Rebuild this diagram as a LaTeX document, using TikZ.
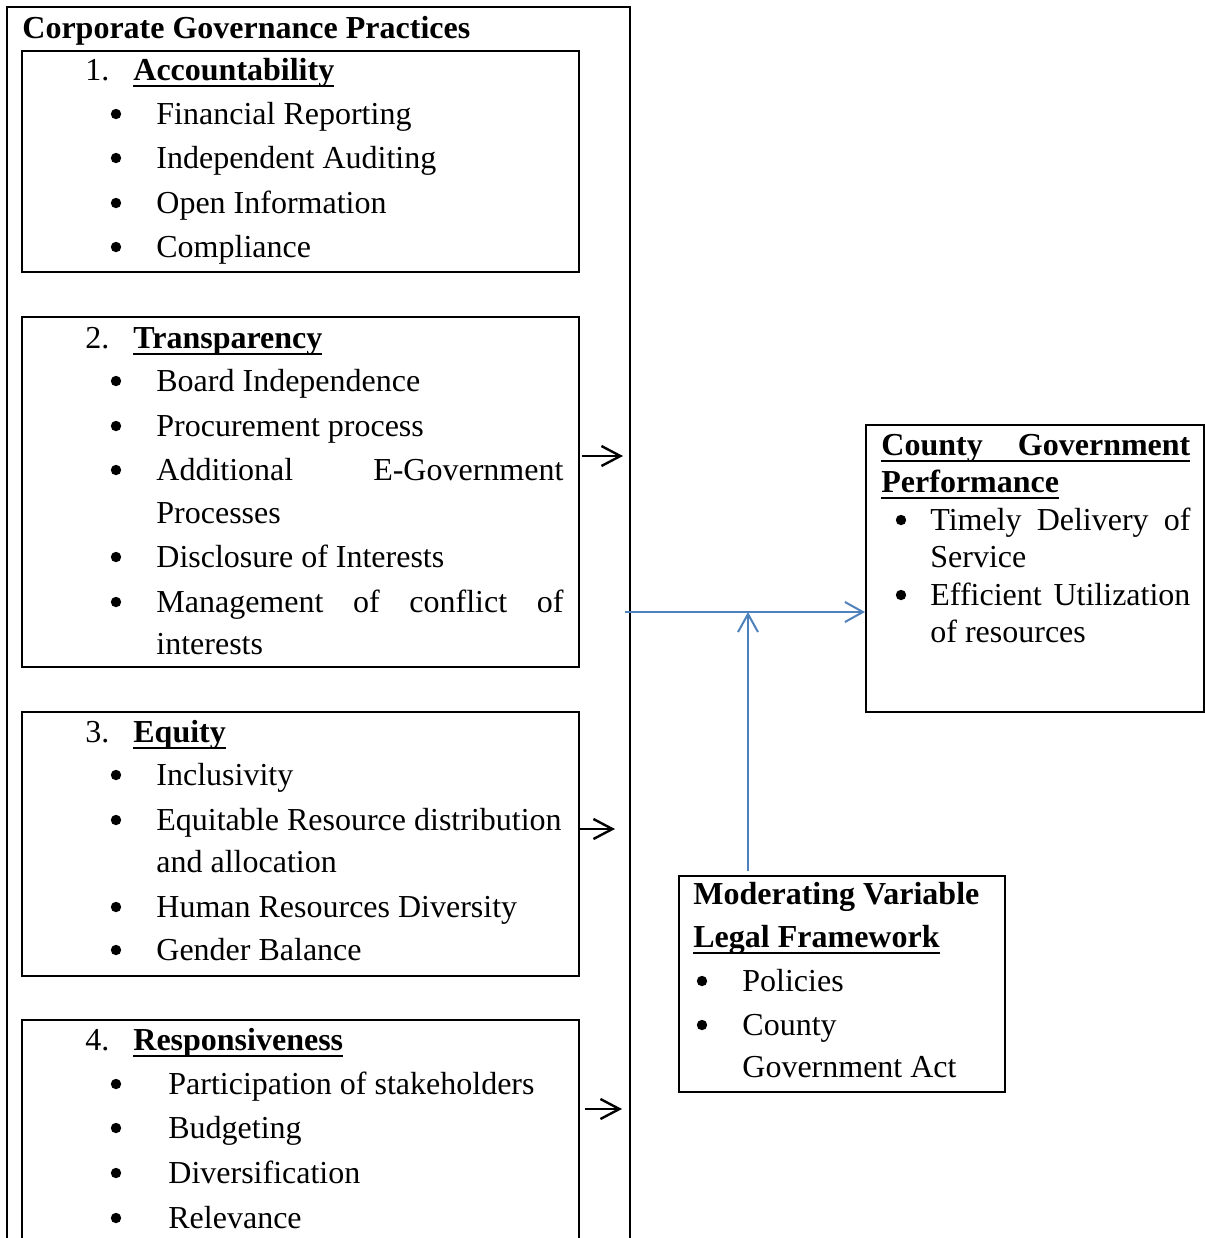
\documentclass[tikz,border=0pt]{standalone}
\usepackage{fontspec}
\setmainfont{Liberation Serif}
\usetikzlibrary{arrows.meta,fit}
\definecolor{linkblue}{HTML}{4F81BD}
\newcommand{\myul}[1]{\setbox0\hbox{#1}\rlap{\rule[-3.6pt]{\wd0}{1.3pt}}\box0}
\begin{document}
\begin{tikzpicture}[x=0.5pt,y=-0.5pt,
  box/.style={draw, line width=1pt, inner sep=0pt},
  txt/.style={anchor=base west, inner sep=0pt, font=\fontsize{16}{20}\selectfont},
  bul/.style={circle, fill, inner sep=0pt, minimum size=5.2pt, yshift=5pt},
  blkarrow/.style={line width=1.2pt, -{Straight Barb[length=9.5pt,width=10pt]}},
  bluearrow/.style={line width=1pt, linkblue, -{Straight Barb[length=9pt,width=10pt]}}]
\useasboundingbox (0,0) rectangle (1205,1238);

% outer and inner boxes
\node[box, fit={(7,7) (630,1270)}] (outer) {};
\node[box, fit={(22,51) (579,272)}] (b1) {};
\node[box, fit={(22,317) (579,667)}] (b2) {};
\node[box, fit={(22,712) (579,976)}] (b3) {};
\node[box, fit={(22,1020) (579,1270)}] (b4) {};
\node[box, fit={(866,425) (1204,712)}] (rb) {};
\node[box, fit={(679,876) (1005,1092)}] (mv) {};

% title
\node[txt] (title) at (22,38) {\bfseries Corporate Governance Practices};

% box 1
\node[txt] (n1) at (85,80) {1.};
\node[txt] (h1) at (133,80) {\bfseries\myul{Accountability}};
\node[bul] (p11) at (116,124) {};
\node[txt] (t11) at (156,124) {Financial Reporting};
\node[bul] (p12) at (116,168) {};
\node[txt] (t12) at (156,168) {Independent Auditing};
\node[bul] (p13) at (116,213) {};
\node[txt] (t13) at (156,213) {Open Information};
\node[bul] (p14) at (116,257) {};
\node[txt] (t14) at (156,257) {Compliance};

% box 2
\node[txt] (n2) at (85,348) {2.};
\node[txt] (h2) at (133,348) {\bfseries\myul{Transparency}};
\node[bul] (p21) at (116,391) {};
\node[txt] (t21) at (156,391) {Board Independence};
\node[bul] (p22) at (116,436) {};
\node[txt] (t22) at (156,436) {Procurement process};
\node[bul] (p23) at (116,480) {};
\node[txt] (t23) at (156,480) {\makebox[203.5pt][s]{Additional E-Government}};
\node[txt] (t23b) at (156,523) {Processes};
\node[bul] (p24) at (116,567) {};
\node[txt] (t24) at (156,567) {Disclosure of Interests};
\node[bul] (p25) at (116,612) {};
\node[txt] (t25) at (156,612) {\makebox[203.5pt][s]{Management of conflict of}};
\node[txt] (t25b) at (156,654) {interests};

% box 3
\node[txt] (n3) at (85,742) {3.};
\node[txt] (h3) at (133,742) {\bfseries\myul{Equity}};
\node[bul] (p31) at (116,785) {};
\node[txt] (t31) at (156,785) {Inclusivity};
\node[bul] (p32) at (116,830) {};
\node[txt] (t32) at (156,830) {Equitable Resource distribution};
\node[txt] (t32b) at (156,872) {and allocation};
\node[bul] (p33) at (116,917) {};
\node[txt] (t33) at (156,917) {Human Resources Diversity};
\node[bul] (p34) at (116,960) {};
\node[txt] (t34) at (156,960) {Gender Balance};

% box 4
\node[txt] (n4) at (85,1050) {4.};
\node[txt] (h4) at (133,1050) {\bfseries\myul{Responsiveness}};
\node[bul] (p41) at (116,1094) {};
\node[txt] (t41) at (168,1094) {Participation of stakeholders};
\node[bul] (p42) at (116,1138) {};
\node[txt] (t42) at (168,1138) {Budgeting};
\node[bul] (p43) at (116,1183) {};
\node[txt] (t43) at (168,1183) {Diversification};
\node[bul] (p44) at (116,1228) {};
\node[txt] (t44) at (168,1228) {Relevance};

% right box
\node[txt] (r1) at (881,455) {\bfseries\myul{\makebox[154.5pt][s]{County Government}}};
\node[txt] (r2) at (881,492) {\bfseries\myul{Performance}};
\node[bul] (rp1) at (901,530) {};
\node[txt] (r3) at (930,530) {\makebox[130pt][s]{Timely Delivery of}};
\node[txt] (r4) at (930,567) {Service};
\node[bul] (rp2) at (901,605) {};
\node[txt] (r5) at (930,605) {\makebox[130pt][s]{Efficient Utilization}};
\node[txt] (r6) at (930,642) {of resources};

% moderating box
\node[txt] (m1) at (693,904) {\bfseries Moderating Variable};
\node[txt] (m2) at (693,947) {\bfseries\myul{Legal Framework}};
\node[bul] (mp1) at (702,991) {};
\node[txt] (m3) at (742,991) {Policies};
\node[bul] (mp2) at (702,1035) {};
\node[txt] (m4) at (742,1035) {County};
\node[txt] (m5) at (742,1077) {Government Act};

% black arrows
\coordinate (a2s) at (582,456); \coordinate (a2e) at (623,456);
\coordinate (a3s) at (579,829); \coordinate (a3e) at (615,829);
\coordinate (a4s) at (585,1109); \coordinate (a4e) at (622,1109);
\draw[blkarrow] (a2s) -- (a2e);
\draw[blkarrow] (a3s) -- (a3e);
\draw[blkarrow] (a4s) -- (a4e);

% blue connectors
\coordinate (bs) at (625,612);
\coordinate (jn) at (748,612);
\draw[bluearrow] (bs) -- (rb.west |- bs);
\draw[bluearrow] (mv.north -| jn) ++(0,-4) -- (jn);
\end{tikzpicture}
\end{document}
